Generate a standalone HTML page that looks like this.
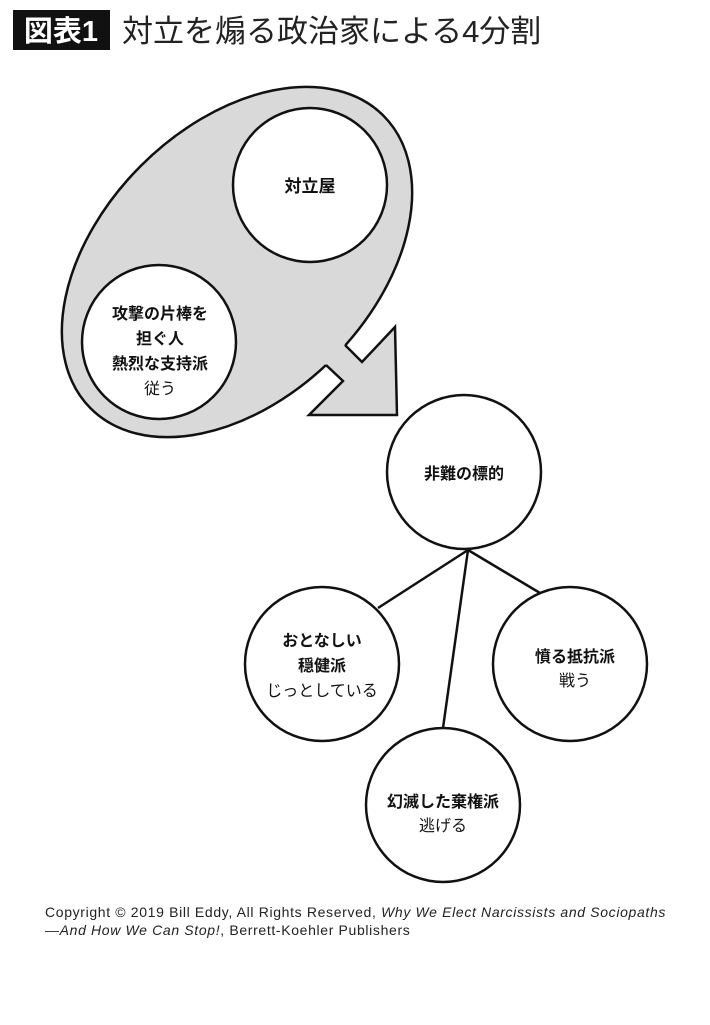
<!DOCTYPE html>
<html><head><meta charset="utf-8"><style>
html,body{margin:0;padding:0;background:#fff;}
body{width:710px;height:1025px;overflow:hidden;position:relative;font-family:"Liberation Sans","Noto Sans CJK JP",sans-serif;}
.cr{position:absolute;left:45px;font-size:14px;letter-spacing:0.65px;color:#222;line-height:18px;white-space:nowrap;}
</style></head><body>
<svg width="710" height="1025" style="position:absolute;left:0;top:0" font-family="Liberation Sans, Noto Sans CJK JP, sans-serif">
<rect x="13" y="10" width="97" height="40" fill="#111"/>
<text x="61" y="41" font-size="29" font-weight="bold" fill="#fff" text-anchor="middle">図表1</text>
<text x="122" y="42" font-size="31" fill="#222">対立を煽る政治家による4分割</text>

<ellipse cx="237" cy="262" rx="207" ry="136" transform="rotate(-45 237 262)" fill="#d9d9d9" stroke="#111" stroke-width="2.5"/>
<polygon points="345,345 362,362 395,327 397,415 309,415 343,381 326,365" fill="#d9d9d9" stroke="none"/>
<line x1="345" y1="345" x2="326" y2="365" stroke="#d9d9d9" stroke-width="5"/>
<polyline points="345,345 362,362 395,327 397,415 309,415 343,381 326,365" fill="none" stroke="#111" stroke-width="2.5" stroke-linejoin="miter"/>

<g fill="#fff" stroke="#111" stroke-width="2.5">
<circle cx="310" cy="185" r="77"/>
<circle cx="159" cy="342" r="77"/>
</g>
<g stroke="#111" stroke-width="2.5">
<line x1="468" y1="550" x2="378" y2="608"/>
<line x1="468" y1="550" x2="540" y2="593"/>
<line x1="468" y1="550" x2="443" y2="728"/>
</g>
<g fill="#fff" stroke="#111" stroke-width="2.5">
<circle cx="464" cy="472" r="77"/>
<circle cx="322" cy="664" r="77"/>
<circle cx="570" cy="664" r="77"/>
<circle cx="443" cy="805" r="77"/>
</g>
<g font-size="16" text-anchor="middle" fill="#111">
<text x="310" y="192" font-weight="bold" font-size="17">対立屋</text>
<text x="160" y="319" font-weight="bold">攻撃の片棒を</text>
<text x="160" y="344" font-weight="bold">担ぐ人</text>
<text x="160" y="369" font-weight="bold">熱烈な支持派</text>
<text x="160" y="394">従う</text>
<text x="464" y="479" font-weight="bold">非難の標的</text>
<text x="322" y="646" font-weight="bold">おとなしい</text>
<text x="322" y="671" font-weight="bold">穏健派</text>
<text x="322" y="696">じっとしている</text>
<text x="575" y="662" font-weight="bold">憤る抵抗派</text>
<text x="575" y="686">戦う</text>
<text x="443" y="807" font-weight="bold">幻滅した棄権派</text>
<text x="443" y="831">逃げる</text>
</g>
</svg>
<div class="cr" style="top:903px">Copyright © 2019 Bill Eddy, All Rights Reserved, <i>Why We Elect Narcissists and Sociopaths</i></div>
<div class="cr" style="top:921px"><i>—And How We Can Stop!</i>, Berrett-Koehler Publishers</div>
</body></html>
